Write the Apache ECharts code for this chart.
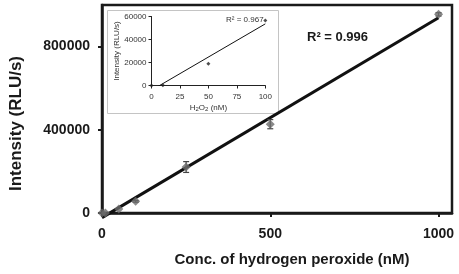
<!DOCTYPE html>
<html><head><meta charset="utf-8">
<script src="https://cdn.jsdelivr.net/npm/echarts@6/dist/echarts.min.js"></script>
<style>html,body{margin:0;padding:0;background:#fff}#c{width:459px;height:274px}</style>
</head><body><div id="c"></div>
<script>
// Main calibration data
const mainX = [0, 10, 50, 100, 250, 500, 1000];
const mainY = [0, 300, 19000, 56000, 221000, 427000, 955000];
const mainErr = [0, 0, 0, 4000, 26000, 22000, 8000];
const mainXTicks = [0, 500, 1000];
const mainYTicks = [0, 400000, 800000];
const mainR2 = 'R² = 0.996';
// Inset (low range) data
const insetX = [0, 10, 50, 100];
const insetY = [0, 300, 19000, 56600];
const insetR2 = 'R² = 0.967';

function fit(xs, ys) {
  const n = xs.length;
  const mx = xs.reduce((a, b) => a + b, 0) / n;
  const my = ys.reduce((a, b) => a + b, 0) / n;
  let sxx = 0, sxy = 0;
  for (let i = 0; i < n; i++) { sxx += (xs[i] - mx) ** 2; sxy += (xs[i] - mx) * (ys[i] - my); }
  const m = sxy / sxx, b = my - m * mx;
  return [[Math.min(...xs), m * Math.min(...xs) + b], [Math.max(...xs), m * Math.max(...xs) + b]];
}

const chart = echarts.init(document.getElementById('c'), null, {renderer: 'canvas'});
const FONT = '"Liberation Sans", Arial, sans-serif';
const dark = '#1a1a1a';
chart.setOption({
  animation: false,
  backgroundColor: '#fff',
  textStyle: {fontFamily: FONT},
  graphic: [
    {type: 'rect', shape: {x: 107.5, y: 10.5, width: 171, height: 103}, style: {fill: '#fff', stroke: '#c4c4c4', lineWidth: 1}, z: 1},
    {type: 'text', left: 307, top: 31, style: {text: mainR2, font: 'bold 13px ' + FONT, fill: dark}, z: 10},
    {type: 'text', left: 226, top: 16, style: {text: insetR2, font: '8px ' + FONT, fill: '#333'}, z: 10}
  ],
  grid: [
    {left: 102, right: 7, top: 5, bottom: 61, show: true, borderColor: dark, borderWidth: 2.5, backgroundColor: 'transparent', z: 0},
    {left: 151.5, right: 193.7, top: 16.5, bottom: 188.5, z: 5}
  ],
  xAxis: [
    {gridIndex: 0, type: 'value', min: 0, max: 1040, interval: 500,
     axisLine: {lineStyle: {color: dark, width: 2.5}}, axisTick: {length: 4, lineStyle: {color: dark, width: 2}},
     splitLine: {show: false}, axisLabel: {showMaxLabel: false, margin: 14, fontSize: 14, fontWeight: 'bold', color: dark, fontFamily: FONT,
       formatter: v => mainXTicks.includes(v) ? String(v) : ''},
     name: 'Conc. of hydrogen peroxide (nM)', nameLocation: 'middle', nameGap: 39,
     nameTextStyle: {fontSize: 15, fontWeight: 'bold', color: dark, fontFamily: FONT, padding: [0, 0, 0, 30]}},
    {gridIndex: 1, type: 'value', min: 0, max: 100, interval: 25, z: 6,
     axisLine: {lineStyle: {color: '#222', width: 1}}, axisTick: {length: 3, lineStyle: {color: '#222'}},
     splitLine: {show: false}, axisLabel: {margin: 7, fontSize: 8, color: '#333', fontFamily: FONT, formatter: v => String(v)},
     name: 'H{s|2}O{s|2} (nM)', nameLocation: 'middle', nameGap: 17,
     nameTextStyle: {fontSize: 8, color: '#333', fontFamily: FONT, rich: {s: {fontSize: 6, verticalAlign: 'bottom', padding: [4, 0, 0, 0], color: '#333'}}}}
  ],
  yAxis: [
    {gridIndex: 0, type: 'value', min: 0, max: 1000000, interval: 400000,
     axisLine: {lineStyle: {color: dark, width: 2.5}}, axisTick: {length: 4, lineStyle: {color: dark, width: 2}},
     splitLine: {show: false}, axisLabel: {showMaxLabel: false, margin: 12, fontSize: 14, fontWeight: 'bold', color: dark, fontFamily: FONT,
       formatter: v => mainYTicks.includes(v) ? String(v) : ''},
     name: 'Intensity (RLU/s)', nameLocation: 'middle', nameGap: 77,
     nameTextStyle: {fontSize: 17, fontWeight: 'bold', color: dark, fontFamily: FONT, padding: [0, 29, 0, 0]}},
    {gridIndex: 1, type: 'value', min: 0, max: 60000, interval: 20000, z: 6,
     axisLine: {lineStyle: {color: '#222', width: 1}}, axisTick: {length: 3, lineStyle: {color: '#222'}},
     splitLine: {show: false}, axisLabel: {margin: 5, fontSize: 8, color: '#333', fontFamily: FONT, formatter: v => String(v)},
     name: 'Intensity (RLU/s)', nameLocation: 'middle', nameGap: 27,
     nameTextStyle: {fontSize: 8, color: '#333', fontFamily: FONT}}
  ],
  series: [
    {type: 'line', xAxisIndex: 0, yAxisIndex: 0, data: fit(mainX, mainY), showSymbol: false, clip: false,
     lineStyle: {color: '#111', width: 3}, z: 3},
    {type: 'custom', xAxisIndex: 0, yAxisIndex: 0, data: mainX.map((x, i) => [x, mainY[i] - mainErr[i], mainY[i] + mainErr[i]]),
     renderItem: (params, api) => {
       const lo = api.coord([api.value(0), api.value(1)]);
       const hi = api.coord([api.value(0), api.value(2)]);
       if (hi[1] === lo[1]) return null;
       const w = 3;
       const st = {stroke: '#444', lineWidth: 1.2};
       return {type: 'group', children: [
         {type: 'line', shape: {x1: lo[0], y1: lo[1], x2: hi[0], y2: hi[1]}, style: st},
         {type: 'line', shape: {x1: lo[0] - w, y1: lo[1], x2: lo[0] + w, y2: lo[1]}, style: st},
         {type: 'line', shape: {x1: hi[0] - w, y1: hi[1], x2: hi[0] + w, y2: hi[1]}, style: st}
       ]};
     }, z: 4},
    {type: 'scatter', xAxisIndex: 0, yAxisIndex: 0, data: mainX.map((x, i) => [x, mainY[i]]),
     symbol: 'diamond', symbolSize: 9, itemStyle: {color: '#6b6b6b'}, z: 5},
    {type: 'line', xAxisIndex: 1, yAxisIndex: 1, data: fit(insetX, insetY), showSymbol: false, clip: true,
     lineStyle: {color: '#111', width: 1}, z: 6},
    {type: 'scatter', xAxisIndex: 1, yAxisIndex: 1, data: insetX.map((x, i) => [x, insetY[i]]),
     symbol: 'diamond', symbolSize: 4, itemStyle: {color: '#222'}, z: 7}
  ]
});
</script></body></html>
